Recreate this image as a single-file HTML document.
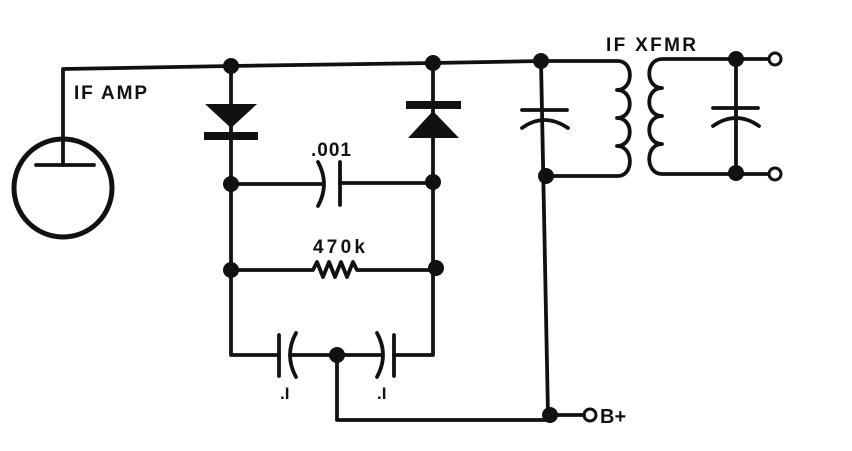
<!DOCTYPE html>
<html><head><style>body{margin:0;background:#fff}svg{display:block}</style></head><body>
<svg width="852" height="451" viewBox="0 0 852 451" xmlns="http://www.w3.org/2000/svg">
<g fill="none" stroke="#111" stroke-width="3.8" stroke-linecap="round" stroke-linejoin="round">
<path d="M63,165 V69 L231,66 L433,63 L541,61"/>
<circle cx="63" cy="188" r="49" stroke-width="5"/>
<path d="M36,165 H94"/>
<path d="M231,66 V355 H279"/>
<path d="M231,184 H322"/>
<path d="M340,183 H433"/>
<path d="M231,270 H313 l4,-8 l6,15 l6,-15 l6,15 l6,-15 l6,15 l6,-15 l4,8 H433"/>
<path d="M433,63 V355 H394"/>
<path d="M340,162 V205"/>
<path d="M318,162 Q330,184 318,206"/>
<path d="M279,335 V376"/>
<path d="M296,333 Q284,355 296,377"/>
<path d="M292,355 H381"/>
<path d="M377,333 Q389,355 377,377"/>
<path d="M394,335 V376"/>
<path d="M337,355 V420 H550"/>
<path d="M541,61 L548,415 H584"/>
<path d="M522,110 H567"/>
<path d="M522,128 Q544,112 568,128"/>
<path d="M541,61 H618 C634,61 634,90 617,90 C634,90 634,118 617,118 C634,118 634,146 617,146 C634,146 634,176 618,176 H546"/>
<path d="M768,59 H662 C645,59 645,88 662,88 C645,88 645,116 662,116 C645,116 645,144 662,144 C645,144 645,174 662,174 H768"/>
<path d="M736,59 V173"/>
<path d="M713,108 H758"/>
<path d="M713,126 Q736,110 759,126"/>
<circle cx="775" cy="59" r="6" stroke-width="3"/>
<circle cx="775" cy="174" r="6" stroke-width="3"/>
<circle cx="590" cy="415" r="6" stroke-width="3"/>
</g>
<g fill="#111">
<polygon points="205,104 257,104 231,128"/>
<rect x="204" y="132" width="54" height="8"/>
<rect x="406" y="101" width="55" height="8"/>
<polygon points="433,111 408,138 459,138"/>
<circle cx="231" cy="66" r="8"/><circle cx="433" cy="63" r="8"/>
<circle cx="231" cy="184" r="8"/><circle cx="433" cy="182" r="8"/>
<circle cx="231" cy="270" r="8"/><circle cx="436" cy="268" r="8"/>
<circle cx="337" cy="355" r="8"/>
<circle cx="541" cy="61" r="8"/><circle cx="546" cy="176" r="8"/>
<circle cx="550" cy="415" r="8"/>
<circle cx="736" cy="59" r="8"/><circle cx="736" cy="173" r="8"/>
</g>
<g font-family="Liberation Sans, sans-serif" font-weight="bold" fill="#111">
<text x="74" y="99" font-size="19" textLength="73">IF AMP</text>
<text x="606" y="51" font-size="19" textLength="90">IF XFMR</text>
<text x="311" y="156" font-size="19" textLength="40">.001</text>
<text x="313" y="253" font-size="19" textLength="52">470k</text>
<text x="280" y="399" font-size="17">.I</text>
<text x="377" y="399" font-size="17">.I</text>
<text x="600" y="423" font-size="20">B+</text>
</g>
</svg>
</body></html>
